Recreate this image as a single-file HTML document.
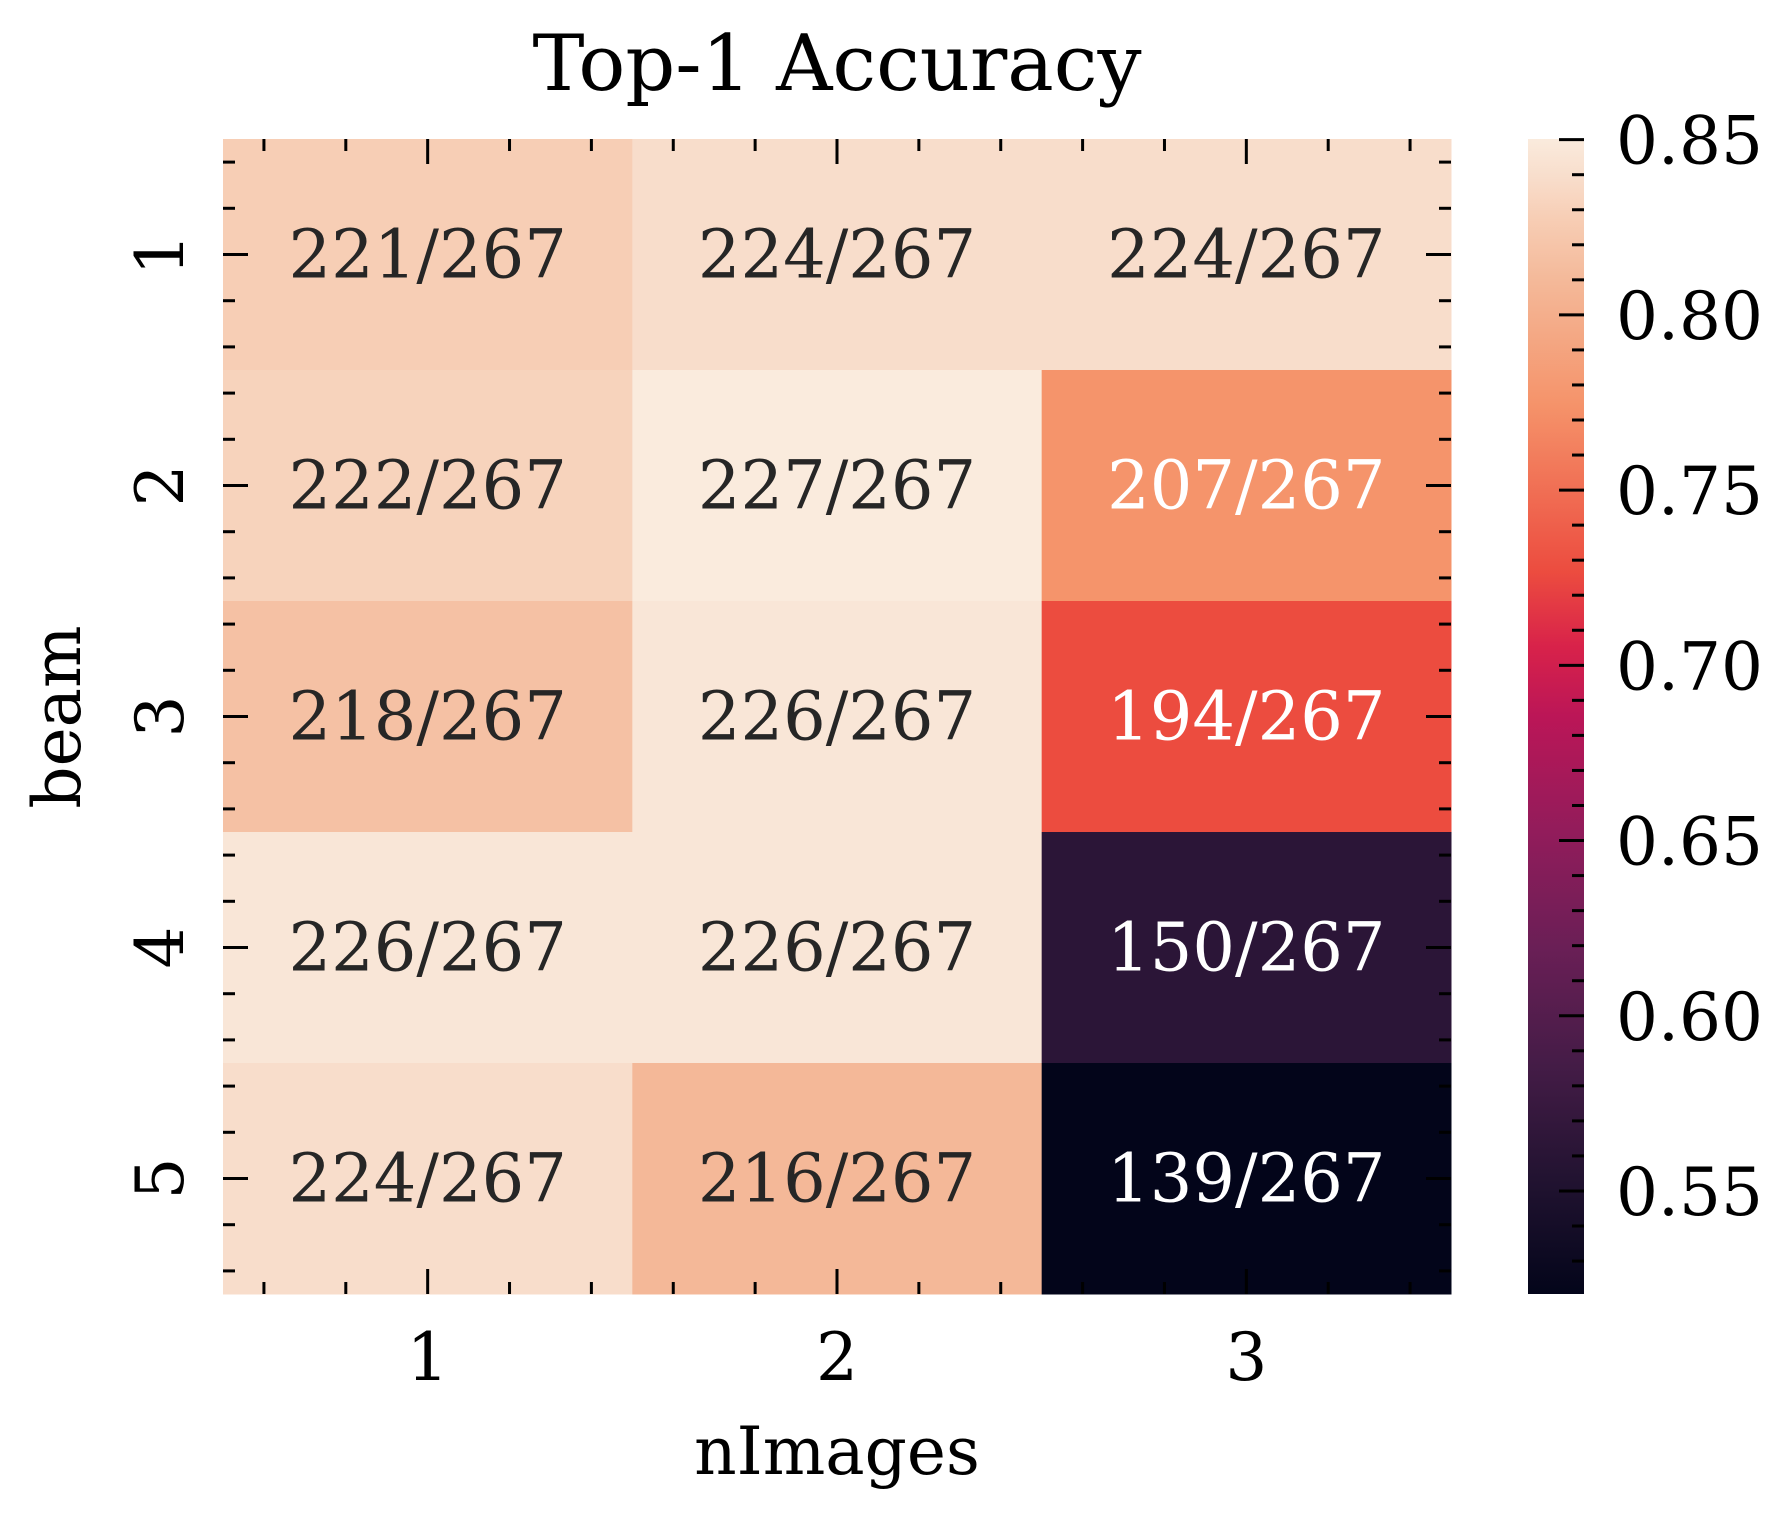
<!DOCTYPE html>
<html><head><meta charset="utf-8"><style>
html,body{margin:0;padding:0;background:#fff}
svg{display:block}
text{font-family:"DejaVu Serif","Liberation Serif",serif}
</style></head><body>
<svg id="chart" width="1792" height="1518" viewBox="0 0 1792 1518" xmlns="http://www.w3.org/2000/svg">
<defs>
<linearGradient id="rocket" x1="0" y1="1" x2="0" y2="0"></linearGradient>
</defs>
<text x="837" y="90" font-size="78" text-anchor="middle" fill="#000">Top-1 Accuracy</text>
<text x="837" y="1474" font-size="66" text-anchor="middle" fill="#000">nImages</text>
<text transform="translate(80,717) rotate(-90)" font-size="66" text-anchor="middle" fill="#000">beam</text>
<g id="cells"></g><g id="ticks"></g>
<rect x="1528" y="139" width="56" height="1155" fill="url(#rocket)"/>
<g id="cbar"></g>
</svg>
<script>
const xCats=["1","2","3"];
const yCats=["1","2","3","4","5"];
const correct=[[221,224,224],[222,227,207],[218,226,194],[226,226,150],[224,216,139]];
const total=267;
const cbTicks=[0.55,0.60,0.65,0.70,0.75,0.80,0.85];
const vmin=139/267, vmax=227/267;

const L=223,R=1451,T=139,B=1294;
const cw=(R-L)/xCats.length, ch=(B-T)/yCats.length;
const xc=i=>L+cw*(i+0.5), yc=j=>T+ch*(j+0.5);
const cbX=1528,cbW=56;
const cy=v=>B-(v-vmin)/(vmax-vmin)*(B-T);
const NS="http://www.w3.org/2000/svg";
const stops=[[0,"#03051a"],[0.1,"#221331"],[0.2,"#451c47"],[0.3,"#6a1f56"],[0.4,"#921c5b"],[0.5,"#bb1657"],[0.56,"#d8224a"],[0.625,"#ec4c3f"],[0.77,"#f5936a"],[0.875,"#f4b898"],[0.93,"#f7cdb4"],[0.966,"#f8ddcb"],[1,"#faebdd"]];
const grad=document.getElementById('rocket');
stops.forEach(s=>{const st=document.createElementNS(NS,'stop');st.setAttribute('offset',s[0]);st.setAttribute('stop-color',s[1]);grad.appendChild(st);});
function hx(h){return [1,3,5].map(k=>parseInt(h.substr(k,2),16));}
function cmap(t){t=Math.max(0,Math.min(1,t));for(let k=0;k<stops.length-1;k++){const[a,ca]=stops[k],[b,cb]=stops[k+1];if(t<=b){const f=(t-a)/(b-a),A=hx(ca),Bc=hx(cb);return "rgb("+A.map((v,i)=>Math.round(v+(Bc[i]-v)*f)).join(",")+")";}}return stops[stops.length-1][1];}
function mk(tag,attrs,parent){const e=document.createElementNS(NS,tag);for(const k in attrs)e.setAttribute(k,attrs[k]);parent.appendChild(e);return e;}
const cells=document.getElementById('cells'),ticks=document.getElementById('ticks'),cbar=document.getElementById('cbar');
correct.forEach((row,j)=>row.forEach((c,i)=>{
  const v=c/total,t=(v-vmin)/(vmax-vmin);
  const r=mk('rect',{x:L+cw*i,y:T+ch*j,width:cw+0.5,height:ch+0.5,fill:cmap(t)},cells);
  
  
  const tx=mk('text',{x:xc(i),y:yc(j)+23,'font-size':67,'text-anchor':'middle',fill:t<0.8?'#ffffff':'#262626'},cells);
  tx.textContent=c+"/"+total;
  
  
}));
function ln(x1,y1,x2,y2,p){mk('line',{x1,y1,x2,y2,stroke:'#000','stroke-width':3},p);}
for(let k=-5;k<=xCats.length*5+5;k++){const u=k*0.2;const pos=L+cw*(u+0.5);if(pos<L+1||pos>R-1)continue;
  const major=k%5===0;const len=major?25:12;ln(pos,B,pos,B-len,ticks);ln(pos,T,pos,T+len,ticks);}
xCats.forEach((c,i)=>{const t=mk('text',{x:xc(i),y:1380,'font-size':66,'text-anchor':'middle',fill:'#000'},ticks);t.textContent=c;
  
  });
for(let k=-5;k<=yCats.length*5+5;k++){const u=k*0.2;const pos=T+ch*(u+0.5);if(pos<T+1||pos>B-1)continue;
  const major=k%5===0;const len=major?25:12;ln(L,pos,L+len,pos,ticks);ln(R,pos,R-len,pos,ticks);}
yCats.forEach((c,j)=>{const t=mk('text',{transform:'translate(183,'+yc(j)+') rotate(-90)','font-size':66,'text-anchor':'middle',fill:'#000'},ticks);t.textContent=c;
  
  });
for(let m=52;m<=85;m++){const v=m/100;if(v<vmin)continue;const p=cy(v);const major=m%5===0;ln(cbX+cbW,p,cbX+cbW-(major?25:12),p,cbar);}
cbTicks.forEach(v=>{const t=mk('text',{x:1616,y:cy(v)+24,'font-size':66,fill:'#000'},cbar);t.textContent=v.toFixed(2);
  
  });
</script>
</body></html>
